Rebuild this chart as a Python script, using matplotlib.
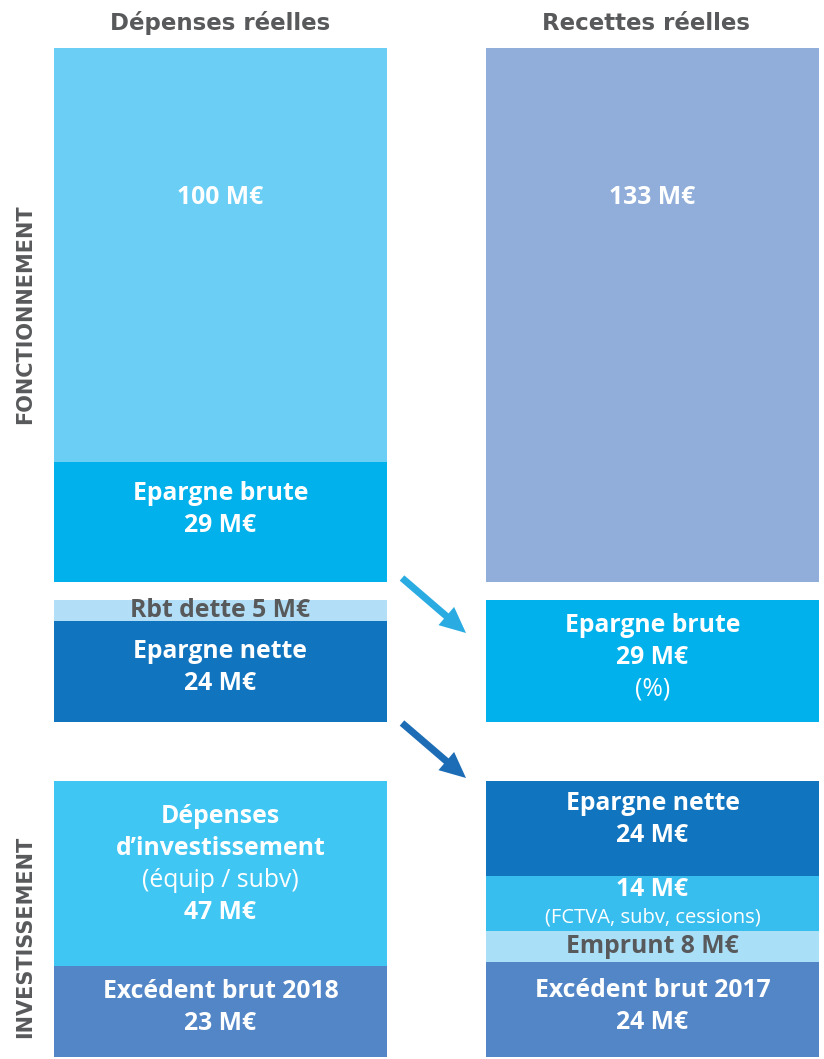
import matplotlib
matplotlib.use('Agg')
import matplotlib.pyplot as plt
from matplotlib.patches import FancyArrow

# Données (M€)
dep_fonct = [100, 29]          # dépenses réelles de fonctionnement + épargne brute
rec_fonct = [133]              # recettes réelles de fonctionnement
dep_epargne = [5, 24]          # remboursement dette + épargne nette
rec_epargne = [29]             # épargne brute
dep_invest = [47, 23]          # dépenses d'investissement + excédent 2018
rec_invest = [24, 14, 8, 24]   # épargne nette, FCTVA..., emprunt, excédent 2017

headers = ['Dépenses réelles', 'Recettes réelles']
sections = ['FONCTIONNEMENT', 'INVESTISSEMENT']

W, H = 824, 1059
BODY = 'Open Sans'
WHITE, GREY = 'white', '#58595B'
FS = 17.8

fig = plt.figure(figsize=(W / 100, H / 100), dpi=100)


def column(x0, x1, y0, y1, values, colors, labels):
    ax = fig.add_axes([x0 / W, 1 - y1 / H, (x1 - x0) / W, (y1 - y0) / H])
    total = sum(values)
    bottom = 0
    for v, c, lab in zip(values, colors, labels):
        ax.bar(0.5, v, width=1, bottom=bottom, color=c, linewidth=0)
        frac, lines = lab
        yc = bottom + frac * v
        n = len(lines)
        for i, (txt, weight, size, col) in enumerate(lines):
            off = (i - (n - 1) / 2) * -23
            ax.annotate(txt, xy=(0.5, yc), xytext=(0, off), textcoords='offset points',
                        ha='center', va='center', fontsize=size, fontweight=weight,
                        color=col, family=BODY)
        bottom += v
    ax.set_xlim(0, 1)
    ax.set_ylim(total, 0)
    ax.axis('off')
    return ax


B, N = 'bold', 'normal'
LX0, LX1, RX0, RX1 = 54, 387, 486, 819

column(LX0, LX1, 48, 582, dep_fonct, ['#6ACEF5', '#00B1EB'],
       [(0.36, [(f'{dep_fonct[0]} M€', B, FS, WHITE)]),
        (0.40, [('Epargne brute', B, FS, WHITE), (f'{dep_fonct[1]} M€', B, FS, WHITE)])])
column(RX0, RX1, 48, 582, rec_fonct, ['#90AED9'],
       [(0.28, [(f'{rec_fonct[0]} M€', B, FS, WHITE)])])

column(LX0, LX1, 600, 722, dep_epargne, ['#B2DFF7', '#1174BE'],
       [(0.5, [(f'Rbt dette {dep_epargne[0]} M€', B, FS, GREY)]),
        (0.46, [('Epargne nette', B, FS, WHITE), (f'{dep_epargne[1]} M€', B, FS, WHITE)])])
column(RX0, RX1, 600, 722, rec_epargne, ['#00B1EB'],
       [(0.47, [('Epargne brute', B, FS, WHITE), (f'{rec_epargne[0]} M€', B, FS, WHITE),
                ('(%)', N, FS, WHITE)])])

column(LX0, LX1, 781, 1057, dep_invest, ['#40C6F2', '#5386C6'],
       [(0.45, [('Dépenses', B, FS, WHITE), ('d’investissement', B, FS, WHITE),
                ('(équip / subv)', N, FS, WHITE), (f'{dep_invest[0]} M€', B, FS, WHITE)]),
        (0.45, [('Excédent brut 2018', B, FS, WHITE), (f'{dep_invest[1]} M€', B, FS, WHITE)])])
column(RX0, RX1, 781, 1057, rec_invest, ['#1174BE', '#37BEEE', '#AADFF8', '#5386C6'],
       [(0.41, [('Epargne nette', B, FS, WHITE), (f'{rec_invest[0]} M€', B, FS, WHITE)]),
        (0.47, []),
        (0.5, [(f'Emprunt {rec_invest[2]} M€', B, FS, GREY)]),
        (0.47, [('Excédent brut 2017', B, FS, WHITE), (f'{rec_invest[3]} M€', B, FS, WHITE)])])

# calque en pixels pour titres, flèches et la ligne 14 M€ (deux tailles)
ov = fig.add_axes([0, 0, 1, 1], facecolor='none')
ov.set_xlim(0, W)
ov.set_ylim(H, 0)
ov.axis('off')

ov.text(220, 23, headers[0], ha='center', va='center', fontsize=16.5,
        fontweight='bold', color=GREY, family='DejaVu Sans')
ov.text(646, 23, headers[1], ha='center', va='center', fontsize=16.5,
        fontweight='bold', color=GREY, family='DejaVu Sans')
ov.text(25, 314, sections[0], rotation=90, ha='center', va='center', fontsize=15,
        fontweight='bold', color=GREY, family='DejaVu Sans')
ov.text(25, 937, sections[1], rotation=90, ha='center', va='center', fontsize=15,
        fontweight='bold', color=GREY, family='DejaVu Sans')

ov.text((RX0 + RX1) / 2, 890, f'{rec_invest[1]} M€', ha='center', va='center',
        fontsize=FS, fontweight='bold', color=WHITE, family=BODY)
ov.text((RX0 + RX1) / 2, 917, '(FCTVA, subv, cessions)', ha='center', va='center',
        fontsize=14.5, color=WHITE, family=BODY)

for (x0, y0), col in [((402, 578), '#2AACE3'), ((402, 723), '#1C6DB5')]:
    ov.add_patch(FancyArrow(x0, y0, 64, 55, width=7, head_width=24, head_length=26,
                            length_includes_head=True, color=col, linewidth=0))

fig.savefig('out.png', dpi=100)
